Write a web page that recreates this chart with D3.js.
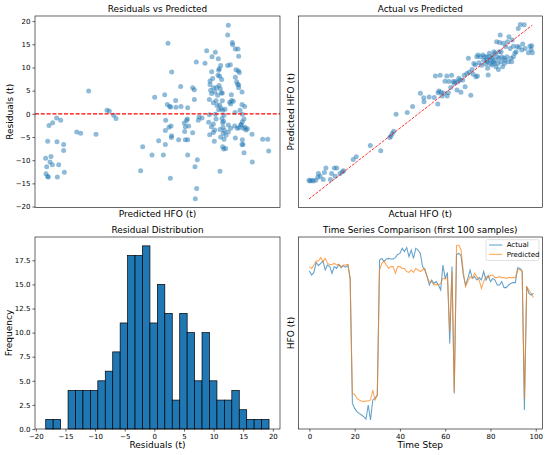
<!DOCTYPE html>
<html><head><meta charset="utf-8">
<script src="https://cdn.jsdelivr.net/npm/d3@7"></script>
<style>
body{margin:0;background:#fff}
svg{display:block}
text{font-family:"DejaVu Sans",sans-serif;fill:#000}
</style>
</head><body>
<svg id="c" width="550" height="455"></svg>
<script>
// ---------------- DATA ----------------
const titles = ["Residuals vs Predicted","Actual vs Predicted","Residual Distribution","Time Series Comparison (first 100 samples)"];

// Residuals vs Predicted: [predicted HFO, residual]
const residualPoints = [
[13.7,-9.6],[14.0,-11.4],[13.8,-12.9],[14.3,-13.5],[14.5,-13.6],[14.3,-5.9],[14.7,-2.5],[15.0,-10.4],[15.3,-9.2],[15.7,-11.0],
[15.8,-1.9],[17.0,-0.9],[17.1,-6.0],[17.2,-13.6],[17.6,-11.0],[18.2,-1.4],[19.1,-6.6],[19.1,-7.9],[19.3,-12.6],
[23.0,-3.9],[24.2,-4.2],[26.6,4.9],[28.8,-4.4],[32.1,0.8],[32.8,0.6],[34.1,-0.3],[34.8,-1.0],
[42.2,-12.3],[42.8,-7.1],[45.6,-8.9],[46.4,3.6],[47.6,-5.8],[49.0,-8.9],[49.4,4.1],[49.6,-6.6],[49.7,-1.4],[49.6,-3.6],
[50.2,2.0],[50.4,15.2],[50.7,-2.9],[50.9,1.6],[51.1,-13.9],[51.2,1.5],[51.3,-2.6],[51.5,9.0],[51.5,-4.7],[51.4,-5.1],
[52.7,2.9],[52.8,1.4],[53.6,-5.6],[54.2,5.9],[54.3,1.6],[55.3,-2.0],[55.4,-3.8],[55.6,-5.6],[56.0,-1.4],[55.6,-2.8],
[56.2,-1.1],[56.3,-8.9],[56.3,1.3],[56.3,-5.6],[56.6,-2.6],[57.8,5.6],[57.8,-4.1],[58.3,5.2],[58.3,3.1],[58.5,-11.4],
[58.9,11.2],[59.0,-16.1],[58.6,-18.3],[59.2,-9.9],[59.5,-1.4],[59.7,-0.7],[60.6,-0.9],[61.5,10.9],[62.0,13.6],[62.6,-1.8],
[62.8,3.1],[62.8,-0.2],[62.9,-4.5],[63.0,6.3],[63.0,7.1],[63.2,5.1],[63.4,-2.8],[63.5,4.4],[63.5,9.1],[63.6,12.3],
[63.8,7.6],[64.0,2.4],[64.0,-2.2],[64.0,-4.0],[64.1,5.6],[64.3,-5.9],[64.4,-3.5],[64.6,13.3],[64.5,4.7],[64.6,-0.1],
[64.8,-1.1],[64.8,2.8],[65.0,5.6],[65.1,1.8],[65.3,4.0],[65.4,8.3],[65.5,11.9],[65.6,9.4],[65.6,0.9],[65.7,6.1],
[65.8,9.7],[65.9,8.1],[65.9,1.9],[66.0,-3.4],[66.0,-12.4],[66.1,5.4],[66.2,10.4],[66.2,-5.0],[66.3,1.2],[66.4,4.5],
[66.5,7.4],[66.6,-1.0],[66.7,4.5],[66.7,2.8],[66.8,-7.1],[66.8,0.8],[66.8,-1.9],[66.9,-2.9],[67.0,-4.2],[67.1,-1.6],
[67.1,-7.6],[67.2,-5.5],[67.2,-0.3],[67.3,-3.6],[67.5,1.0],[67.7,-7.5],[67.8,-4.6],[68.3,10.4],[68.5,19.1],[68.3,17.0],
[68.5,-2.4],[68.5,-3.9],[68.9,2.5],[69.1,10.6],[69.2,2.1],[69.2,-3.1],[69.4,4.1],[69.5,2.9],[69.7,15.4],[69.8,14.9],
[70.0,2.7],[70.4,-2.6],[70.5,0.3],[70.6,7.9],[70.6,-5.2],[70.6,14.0],[70.8,9.5],[71.0,6.9],[71.2,-3.1],[71.3,6.4],
[71.4,14.0],[71.5,9.3],[71.6,6.2],[71.6,5.6],[71.6,12.4],[71.7,-3.0],[71.8,8.9],[72.0,0.8],[72.2,-2.4],[72.4,-2.3],
[72.6,4.7],[72.6,2.0],[72.7,-0.1],[72.7,-1.7],[72.7,-5.6],[72.6,-6.6],[72.9,-6.6],[73.0,-3.1],[73.2,-1.1],[73.2,-8.4],
[73.4,1.6],[73.5,-2.9],[73.8,-3.5],[74.2,-3.2],[75.6,-4.4],[75.7,-10.4],[78.8,-5.5],[80.3,-5.5],[80.6,-8.0]
];

// Actual vs Predicted: [actual HFO, predicted HFO]
const actualVsPredicted = [
[4.67,12.7],[5.0,12.4],[5.6,12.7],[6.1,12.4],[6.9,12.7],[7.6,13.9],[7.8,15.6],[8.4,14.4],[9.4,13.0],[9.8,16.0],
[10.3,17.9],[11.8,13.0],[12.2,15.6],[13.1,17.9],[13.9,17.9],[13.4,14.4],[15.0,15.6],[15.8,16.3],[16.2,16.7],
[19.4,21.6],[20.4,22.7],[25.1,27.6],[28.6,25.3],[31.6,31.0],[32.0,31.6],[32.4,32.7],[32.9,33.6],[33.7,40.9],[37.4,41.7],
[39.2,44.3],[41.8,49.9],[42.9,48.0],[43.0,46.3],[44.7,48.3],[46.4,48.1],[46.8,57.3],[47.6,45.3],[47.7,50.1],[48.4,57.6],
[48.0,50.9],[48.7,50.4],[49.0,48.7],[49.6,49.9],[50.0,55.1],[50.6,57.3],[50.7,48.7],[51.1,50.1],[51.3,54.9],[52.2,57.6],
[51.9,52.4],[52.7,55.0],[53.1,54.1],[53.4,55.0],[54.0,51.3],[54.2,54.7],[54.6,56.3],[55.0,55.6],[55.3,50.4],[55.9,55.6],
[56.4,57.6],[56.7,52.7],[57.3,58.4],[57.8,64.9],[58.1,58.9],[58.6,49.1],[59.0,60.1],[59.4,58.1],[59.6,62.7],[60.1,62.0],
[60.3,57.0],[60.8,57.3],[61.0,66.3],[61.3,63.0],[61.8,65.6],[62.2,61.9],[62.6,66.3],[62.9,64.1],[63.2,65.6],[63.6,62.4],
[63.9,65.6],[64.1,63.4],[64.2,60.6],[64.4,57.7],[64.7,65.6],[64.8,67.0],[65.0,62.7],[65.2,64.1],[65.6,62.0],[65.9,65.9],
[66.1,63.4],[66.3,67.7],[66.7,64.1],[67.0,61.3],[67.2,72.0],[67.4,65.6],[67.6,62.7],[67.8,60.1],[68.0,64.9],[68.2,71.6],
[68.4,74.9],[68.6,63.4],[68.9,65.6],[69.2,61.3],[69.4,71.3],[69.7,64.9],[69.8,62.7],[70.0,64.1],[70.2,69.9],[70.6,65.6],
[70.8,72.0],[71.1,63.4],[71.3,74.1],[71.7,69.1],[72.0,64.9],[72.2,63.4],[72.4,72.7],[72.8,70.1],[73.3,67.0],[73.7,67.7],
[74.1,69.9],[74.4,77.6],[74.7,69.6],[75.1,79.4],[75.6,68.4],[75.9,71.0],[76.4,79.3],[76.7,69.1],[77.8,67.3],[78.3,70.1],
[78.7,68.7],[78.9,70.3],[79.11,67.3],
[60.6,65.6],[65.6,64.9],[66.7,67.0],[68.7,67.7],[72.8,65.6],[66.4,62.7],[68.0,67.7],[63.9,64.1]
];

// Residual histogram (30 bins between min and max residual)
const histMin = -18.33, histMax = 19.36;
const histCounts = [1,1,0,4,4,4,4,5,6,8,11,18,18,19,11,15,12,3,12,10,5,10,5,3,3,4,2,1,1,1];

// Time series, first 100 samples
const tsActual = [
82.0,80.0,81.3,86.3,84.7,85.8,87.0,82.5,85.0,84.2,
80.8,84.2,83.3,85.3,83.7,84.7,83.8,85.0,78.3,15.8,
13.3,11.7,10.8,10.0,9.2,8.0,15.0,7.5,17.5,18.3,
20.0,87.5,88.3,86.7,88.0,88.3,88.0,88.0,88.7,90.3,
90.8,93.3,91.7,93.7,89.2,92.5,88.3,93.3,92.5,90.8,
84.2,82.5,79.2,75.0,77.5,75.8,76.7,75.0,72.5,85.0,
78.3,81.3,45.8,84.2,20.8,90.3,90.8,89.7,80.0,75.0,
78.3,82.5,78.3,79.2,77.5,78.7,77.5,81.7,77.5,79.7,
76.7,78.3,77.5,75.0,75.0,76.7,73.7,73.7,75.0,75.8,
76.2,76.2,83.7,83.3,82.0,12.5,74.2,70.8,70.0,70.8];
const tsPredicted = [
84.2,83.3,85.0,87.0,87.0,88.7,86.7,88.3,85.8,85.3,
85.3,85.8,85.0,85.3,84.2,85.0,85.0,85.3,78.3,20.8,
20.3,18.3,17.5,17.0,16.7,17.0,17.0,17.5,22.5,17.5,
20.0,82.5,85.8,87.0,85.0,83.3,84.2,84.2,80.8,84.2,
84.2,83.3,83.3,81.7,81.3,82.5,81.3,83.3,82.5,81.7,
82.5,83.3,79.2,76.7,76.7,75.0,75.3,75.0,75.8,78.3,
78.3,78.7,51.7,81.7,21.7,94.7,95.0,92.5,81.7,74.2,
76.7,79.2,78.3,80.8,79.2,77.5,73.3,76.7,79.2,78.7,
79.7,80.0,78.7,78.7,79.2,78.7,78.7,78.3,78.8,78.7,
78.7,78.7,82.5,82.8,81.7,18.3,74.2,72.5,70.8,68.7];

const residTicks = [-20,-15,-10,-5,0,5,10,15,20];
const histXTicks = [-20,-15,-10,-5,0,5,10,15,20];
const histYTicks = [0,2.5,5,7.5,10,12.5,15,17.5];
const tsXTicks = [0,20,40,60,80,100];
const legendLabels = ["Actual","Predicted"];

// ---------------- DRAW ----------------
const svg = d3.select("#c");
const BLUE = "#1f77b4", ORANGE = "#ff7f0e";
const TICK_FS = 7, LABEL_FS = 9, TITLE_FS = 8.9;
const minus = d => (d < 0 ? "\u2212" + Math.abs(d) : String(d));

const P = {
  tl:{x0:35,x1:280,y0:16,y1:207.5},
  tr:{x0:298.3,x1:542.3,y0:16,y1:207.5},
  bl:{x0:35,x1:280,y0:237,y1:429},
  br:{x0:298.3,x1:542.3,y0:237,y1:429}
};

function frame(p){
  svg.append("rect").attr("x",p.x0).attr("y",p.y0)
    .attr("width",p.x1-p.x0).attr("height",p.y1-p.y0)
    .attr("fill","none").attr("stroke","#000").attr("stroke-width",0.6);
}
function title(p,t){
  svg.append("text").attr("x",(p.x0+p.x1)/2).attr("y",p.y0-4.5)
    .attr("text-anchor","middle").attr("font-size",TITLE_FS).text(t);
}
function xlabel(p,t,y){
  svg.append("text").attr("x",(p.x0+p.x1)/2).attr("y",y)
    .attr("text-anchor","middle").attr("font-size",LABEL_FS).text(t);
}
function ylabel(p,t,x){
  const cy=(p.y0+p.y1)/2;
  svg.append("text").attr("transform",`translate(${x},${cy}) rotate(-90)`)
    .attr("text-anchor","middle").attr("font-size",LABEL_FS).text(t);
}
function styleAxis(g){
  g.select(".domain").remove();
  g.selectAll(".tick line").attr("stroke","#000").attr("stroke-width",0.6);
  g.selectAll(".tick text").attr("font-size",TICK_FS).attr("fill","#000")
    .attr("font-family","DejaVu Sans, sans-serif");
}

// ---- Panel 1: Residuals vs Predicted
{
  const p=P.tl;
  const x=d3.scaleLinear().domain([10.5,84]).range([p.x0,p.x1]);
  const y=d3.scaleLinear().domain([-20.2,21.1]).range([p.y1,p.y0]);
  svg.append("g").selectAll("circle").data(residualPoints).join("circle")
    .attr("cx",d=>x(d[0])).attr("cy",d=>y(d[1])).attr("r",2.5)
    .attr("fill",BLUE).attr("fill-opacity",0.5);
  svg.append("line").attr("x1",p.x0).attr("x2",p.x1).attr("y1",y(0)).attr("y2",y(0))
    .attr("stroke","red").attr("stroke-width",1.1).attr("stroke-dasharray","4,1.8");
  const ay=svg.append("g").attr("transform",`translate(${p.x0},0)`)
    .call(d3.axisLeft(y).tickValues(residTicks).tickFormat(minus).tickSize(2.6).tickPadding(2));
  styleAxis(ay);
  frame(p); title(p,titles[0]);
  xlabel(p,"Predicted HFO (t)",216.5);
  ylabel(p,"Residuals (t)",12.8);
}

// ---- Panel 2: Actual vs Predicted
{
  const p=P.tr;
  const x=d3.scaleLinear().domain([1.1,82.43]).range([p.x0,p.x1]);
  const y=d3.scaleLinear().domain([1.0,83.0]).range([p.y1,p.y0]);
  svg.append("g").selectAll("circle").data(actualVsPredicted).join("circle")
    .attr("cx",d=>x(d[0])).attr("cy",d=>y(d[1])).attr("r",2.5)
    .attr("fill",BLUE).attr("fill-opacity",0.5);
  const ext=d3.extent(actualVsPredicted,d=>d[0]);
  svg.append("line").attr("x1",x(ext[0])).attr("y1",y(ext[0])).attr("x2",x(ext[1])).attr("y2",y(ext[1]))
    .attr("stroke","red").attr("stroke-width",0.8).attr("stroke-dasharray","2.9,1.3");
  frame(p); title(p,titles[1]);
  xlabel(p,"Actual HFO (t)",216.5);
  ylabel(p,"Predicted HFO (t)",294);
}

// ---- Panel 3: Residual Distribution
{
  const p=P.bl;
  const x=d3.scaleLinear().domain([-20.14,21.21]).range([p.x0,p.x1]);
  const y=d3.scaleLinear().domain([0,19.92]).range([p.y1,p.y0]);
  const w=(histMax-histMin)/histCounts.length;
  const bins=histCounts.map((c,i)=>({x0:histMin+i*w,x1:histMin+(i+1)*w,c}));
  svg.append("g").selectAll("rect").data(bins.filter(b=>b.c>0)).join("rect")
    .attr("x",b=>x(b.x0)).attr("width",b=>x(b.x1)-x(b.x0))
    .attr("y",b=>y(b.c)).attr("height",b=>y(0)-y(b.c))
    .attr("fill",BLUE).attr("stroke","#000").attr("stroke-width",0.7);
  const ax=svg.append("g").attr("transform",`translate(0,${p.y1})`)
    .call(d3.axisBottom(x).tickValues(histXTicks).tickFormat(minus).tickSize(2.6).tickPadding(2));
  styleAxis(ax);
  const ay=svg.append("g").attr("transform",`translate(${p.x0},0)`)
    .call(d3.axisLeft(y).tickValues(histYTicks).tickFormat(d3.format(".1f")).tickSize(2.6).tickPadding(2));
  styleAxis(ay);
  frame(p); title(p,titles[2]);
  xlabel(p,"Residuals (t)",448);
  ylabel(p,"Frequency",12.3);
}

// ---- Panel 4: Time series
{
  const p=P.br;
  const x=d3.scaleLinear().domain([-4.9,102.9]).range([p.x0,p.x1]);
  const y=d3.scaleLinear().domain([3,99]).range([p.y1,p.y0]);
  const line=d3.line().x((d,i)=>x(i)).y(d=>y(d));
  svg.append("path").attr("d",line(tsActual)).attr("fill","none")
    .attr("stroke",BLUE).attr("stroke-width",1.05).attr("stroke-opacity",0.7);
  svg.append("path").attr("d",line(tsPredicted)).attr("fill","none")
    .attr("stroke",ORANGE).attr("stroke-width",1.05).attr("stroke-opacity",0.7);
  const ax=svg.append("g").attr("transform",`translate(0,${p.y1})`)
    .call(d3.axisBottom(x).tickValues(tsXTicks).tickSize(2.6).tickPadding(2));
  styleAxis(ax);
  frame(p); title(p,titles[3]);
  xlabel(p,"Time Step",447.5);
  ylabel(p,"HFO (t)",294);
  // legend
  const lg=svg.append("g");
  lg.append("rect").attr("x",486).attr("y",239.7).attr("width",53).attr("height",20.8)
    .attr("rx",1.5).attr("fill","#fff").attr("fill-opacity",0.8)
    .attr("stroke","#ccc").attr("stroke-width",0.6);
  [BLUE,ORANGE].forEach((c,i)=>{
    const yy=245+i*9.3;
    lg.append("line").attr("x1",489).attr("x2",502.3).attr("y1",yy).attr("y2",yy)
      .attr("stroke",c).attr("stroke-width",1.05).attr("stroke-opacity",0.7);
    lg.append("text").attr("x",506.7).attr("y",yy+2.4).attr("font-size",TICK_FS).text(legendLabels[i]);
  });
}
</script>
</body></html>
